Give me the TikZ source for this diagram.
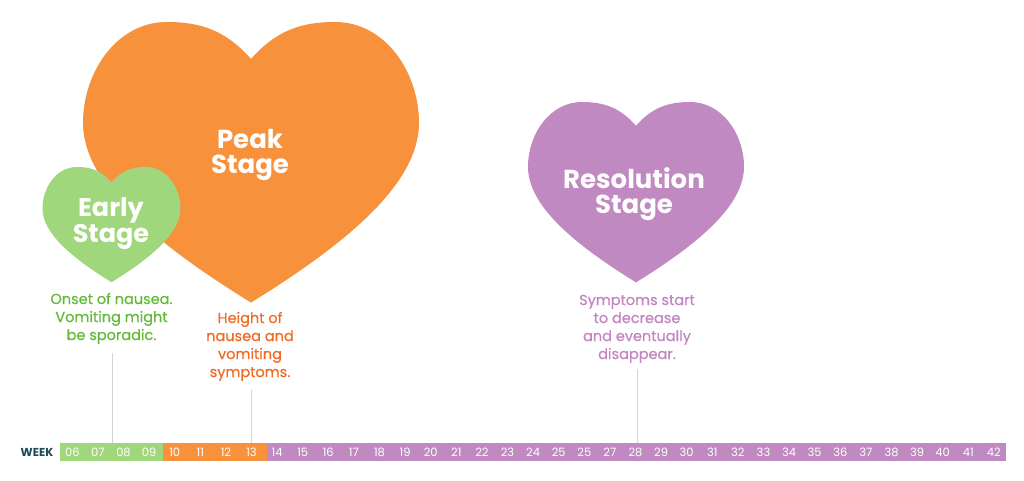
\documentclass[tikz,border=0pt]{standalone}
\usepackage{fontspec}
\setmainfont{Poppins}
\newfontfamily\medfont[FakeBold=0.45]{Poppins}
\definecolor{hgreen}{HTML}{A0D67C}
\definecolor{horange}{HTML}{F7913C}
\definecolor{hpurple}{HTML}{C189C1}
\definecolor{tgreen}{HTML}{62BA38}
\definecolor{torange}{HTML}{F26A21}
\definecolor{tpurple}{HTML}{C384C0}
\definecolor{weekc}{HTML}{1E4A5A}
\definecolor{leadc}{HTML}{D4D4D8}
\tikzset{
  heart/.pic={
    \path[pic actions] (0,0.22)
      .. controls (0.15,0.05) and (0.3,0) .. (0.5,0)
      .. controls (0.8,0) and (1,0.3) .. (1,0.6)
      .. controls (1,0.95) and (0.6,1.3) .. (0,1.67)
      .. controls (-0.6,1.3) and (-1,0.95) .. (-1,0.6)
      .. controls (-1,0.3) and (-0.8,0) .. (-0.5,0)
      .. controls (-0.3,0) and (-0.15,0.05) .. (0,0.22) -- cycle;
  },
  title/.style={text=white, font=\fontsize{26}{24.5}\selectfont\bfseries, align=center, anchor=base, inner sep=0pt},
  body/.style={font=\fontsize{14.5}{18}\selectfont\medfont, align=center, anchor=base, inner sep=0pt},
  leader/.style={draw=leadc, line width=0.8pt},
  wnum/.style={text=white, font=\fontsize{11.5}{11.5}\selectfont, anchor=center, inner sep=0pt},
}
\begin{document}
\begin{tikzpicture}[x=1pt,y=-1pt]
\useasboundingbox[fill=white] (0,0) rectangle (1024,481);
% hearts
\pic[fill=horange, scale=168] at (251,22) {heart};
\pic[fill=hgreen, scale=69] at (111.5,167) {heart};
\pic[fill=hpurple, scale=108] at (636,102) {heart};
% titles (anchor base = last line baseline)
\node[title] (peak) at (250,173) {Peak\\Stage};
\node[title, font=\fontsize{25.5}{24.5}\selectfont\bfseries] (early) at (111,242) {Early\\Stage};
\node[title] (resol) at (634,213) {Resolution\\Stage};
% descriptions
\node[body, text=tgreen] (earlytxt) at (111.5,340) {Onset of nausea.\\Vomiting might\\be sporadic.};
\node[body, text=torange] (peaktxt) at (250,377) {Height of\\nausea and\\vomiting\\symptoms.};
\node[body, text=tpurple] (resoltxt) at (637,359) {Symptoms start\\to decrease\\and eventually\\disappear.};
% timeline bar
\fill[hgreen] (59.5,443) rectangle (162.5,461);
\fill[horange] (162.5,443) rectangle (266.5,461);
\fill[hpurple] (266.5,443) rectangle (1006,461);
\node[text=weekc, font=\fontsize{11.5}{11.5}\selectfont\bfseries, inner sep=0pt] (week) at (37,452) {WEEK};
\foreach \lab [count=\i from 0] in {06,07,08,09,10,11,12,13,14,15,16,17,18,19,20,21,22,23,24,25,25,27,28,29,30,31,32,33,34,35,36,37,38,39,40,41,42}{
  \node[wnum] (w\i) at ({72.3+25.6*\i},452) {\lab};
}
% leaders
\coordinate (l1a) at (112,353); \coordinate (l1b) at (112,443);
\coordinate (l2a) at (251,390); \coordinate (l2b) at (251,443);
\coordinate (l3a) at (637,369); \coordinate (l3b) at (637,443);
\draw[leader] (l1a) -- (l1b);
\draw[leader] (l2a) -- (l2b);
\draw[leader] (l3a) -- (l3b);
\end{tikzpicture}
\end{document}
